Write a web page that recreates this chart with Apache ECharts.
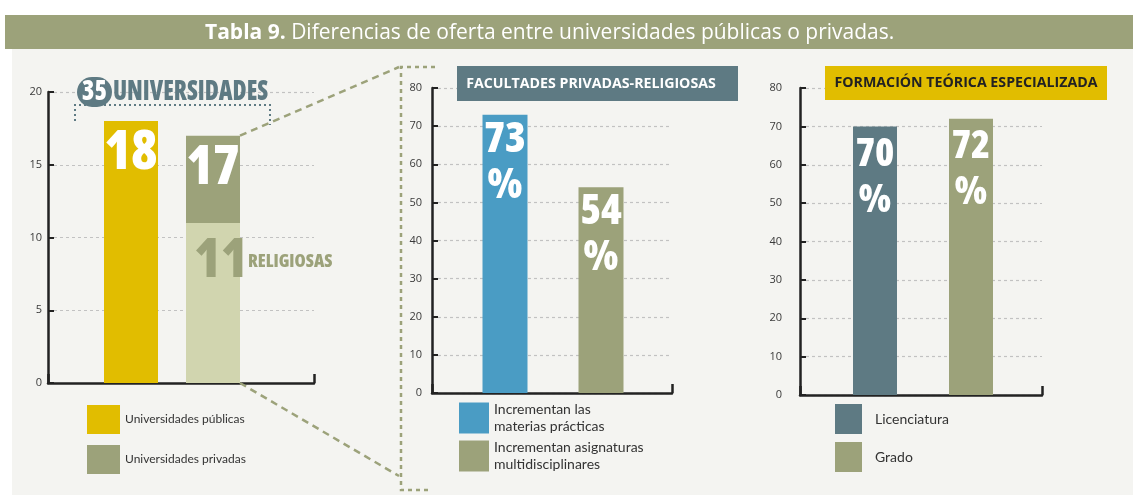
<!DOCTYPE html>
<html><head><meta charset="utf-8">
<script src="https://cdn.jsdelivr.net/npm/echarts@6/dist/echarts.min.js"></script>
<style>html,body{margin:0;padding:0;background:#fff}#c{width:1133px;height:498px}</style>
</head><body><div id="c"></div>
<script>
// ---------- DATA ----------
const titleLead = 'Tabla 9.';
const titleRest = 'Diferencias de oferta entre universidades públicas o privadas.';

// Chart 1: universities
const uniCategories = ['Universidades públicas', 'Universidades privadas'];
const publicasCount = 18;
const privadasCount = 17;
const religiosasCount = 11;
const religiosasLabel = 'RELIGIOSAS';
const uniWord = 'UNIVERSIDADES';
const uniAxis = { max: 20, interval: 5 };

// Chart 2: private-religious faculties
const facTitle = 'FACULTADES PRIVADAS-RELIGIOSAS';
const facCategories = ['Incrementan las\nmaterias prácticas', 'Incrementan asignaturas\nmultidisciplinares'];
const facValues = [73, 54];
const facAxis = { max: 80, interval: 10 };

// Chart 3: specialised theoretical training
const formTitle = 'FORMACIÓN TEÓRICA ESPECIALIZADA';
const formCategories = ['Licenciatura', 'Grado'];
const formValues = [70, 72];
const formAxis = { max: 80, interval: 10 };

// ---------- STYLE ----------
const COND = '"Open Sans","Roboto",sans-serif';
const SANS = '"Open Sans","Noto Sans",sans-serif';
const LEG = 'Lato,"Open Sans",sans-serif';
const C = { yellow:'#e1bd00', olive:'#9ca27a', light:'#d1d5af', blue:'#4a9cc4', slate:'#5e7a83', axis:'#222', grid:'#c2c2c2', text:'#3a3a3a', bg:'#f4f4f1' };

const frames = [
  { left:48, top:92, width:266, height:291 },
  { left:432, top:88, width:240, height:305 },
  { left:800, top:88, width:242, height:307 }
];
const barGrids = [
  { left:90, top:92, width:164, height:291 },
  { left:457, top:88, width:192, height:305 },
  { left:827, top:88, width:192, height:307 }
];
const axesCfg = [uniAxis, facAxis, formAxis];
const labelMargins = [6, 10, 18];

const grid = frames.concat(barGrids);
const xAxis = [], yAxis = [];
frames.forEach((f, i) => {
  xAxis.push({ gridIndex:i, type:'category', data:[''], boundaryGap:true,
    axisLine:{ lineStyle:{ color:C.axis, width:2.5 } },
    axisTick:{ show:true, inside:true, length:9, lineStyle:{ color:C.axis, width:2.5 } },
    axisLabel:{ show:false }, splitLine:{ show:false } });
  yAxis.push({ gridIndex:i, type:'value', min:0, max:axesCfg[i].max, interval:axesCfg[i].interval,
    axisLine:{ show:true, lineStyle:{ color:C.axis, width:2.5 } },
    axisTick:{ show:true, inside:true, length:6, lineStyle:{ color:C.axis, width:2 } },
    axisLabel:{ color:C.text, fontSize:11, fontFamily:SANS, margin:labelMargins[i] },
    splitLine:{ show:true, lineStyle:{ color:C.grid, type:[3,3], width:1.2 } } });
});
const barCats = [uniCategories, facCategories, formCategories];
barGrids.forEach((g, j) => {
  xAxis.push({ gridIndex:j+3, type:'category', data:barCats[j], show:false });
  yAxis.push({ gridIndex:j+3, type:'value', min:0, max:axesCfg[j].max, show:false });
});

const condFont = { fontFamily:COND, fontStyle:'condensed', fontWeight:800 };
const bigLabel = { show:true, position:'insideTop', distance:6, color:'#fff', ...condFont, fontSize:54, lineHeight:54 };
const pctLabel = (size, dist) => ({ show:true, position:'insideTop', distance:dist, color:'#fff',
  formatter: p => `{v|${p.value}}\n{p|%}`,
  rich:{ v:{ ...condFont, fontSize:size, lineHeight:46, color:'#fff' },
         p:{ ...condFont, fontSize:size, lineHeight:46, color:'#fff' } } });

const series = [
  { name:uniCategories[0], type:'bar', xAxisIndex:3, yAxisIndex:3, stack:'u', barWidth:54,
    data:[publicasCount, '-'], itemStyle:{ color:C.yellow }, label:{ ...bigLabel, formatter:'{c}' } },
  { name:'Religiosas', type:'bar', xAxisIndex:3, yAxisIndex:3, stack:'u', barWidth:54,
    data:['-', religiosasCount], itemStyle:{ color:C.light },
    label:{ show:true, position:'insideTopLeft', distance:8, offset:[0,4],
      formatter: p => `{n|${p.value}}{r|${religiosasLabel}}`,
      rich:{ n:{ width:54, ...condFont, fontSize:54, lineHeight:54, color:C.olive },
             r:{ ...condFont, fontSize:18, lineHeight:54, color:C.olive } } } },
  { name:uniCategories[1], type:'bar', xAxisIndex:3, yAxisIndex:3, stack:'u', barWidth:54,
    data:['-', privadasCount - religiosasCount], itemStyle:{ color:C.olive },
    label:{ ...bigLabel, distance:6, formatter:() => String(privadasCount) } },

  { name:facCategories[0], type:'bar', xAxisIndex:4, yAxisIndex:4, stack:'f', barWidth:45,
    data:[facValues[0], '-'], itemStyle:{ color:C.blue }, label:pctLabel(42, 2) },
  { name:facCategories[1], type:'bar', xAxisIndex:4, yAxisIndex:4, stack:'f', barWidth:45,
    data:['-', facValues[1]], itemStyle:{ color:C.olive }, label:pctLabel(42, 2) },

  { name:formCategories[0], type:'bar', xAxisIndex:5, yAxisIndex:5, stack:'r', barWidth:44,
    data:[formValues[0], '-'], itemStyle:{ color:C.slate }, label:pctLabel(39, 6) },
  { name:formCategories[1], type:'bar', xAxisIndex:5, yAxisIndex:5, stack:'r', barWidth:44,
    data:['-', formValues[1]], itemStyle:{ color:C.olive }, label:pctLabel(39, 5) }
];

const legText = { fontFamily:LEG, color:'#333' };
const legend = [
  { data:uniCategories, left:87, top:405, padding:0, orient:'vertical', icon:'rect', itemWidth:33, itemHeight:29, itemGap:11,
    selectedMode:false, textStyle:{ ...legText, fontSize:12 } },
  { data:facCategories, left:459, top:401, padding:0, orient:'vertical', icon:'rect', itemWidth:30, itemHeight:31, itemGap:4,
    selectedMode:false, textStyle:{ ...legText, fontSize:14, lineHeight:17 } },
  { data:formCategories, left:835, top:404, padding:0, orient:'vertical', icon:'rect', itemWidth:27, itemHeight:30, itemGap:8,
    selectedMode:false, textStyle:{ ...legText, fontSize:14, padding:[0,0,0,8] } }
];

const staticGraphics = [
  { type:'rect', z:-20, shape:{ x:12, y:49, width:1121, height:446 }, style:{ fill:C.bg } },
  { type:'rect', z:-10, shape:{ x:5, y:15, width:1128, height:34 }, style:{ fill:C.olive } },
  { type:'text', z:60, x:205, y:33, style:{ text:`{b|${titleLead}} ${titleRest}`, fill:'#fff',
      fontFamily:SANS, fontSize:21, verticalAlign:'middle', align:'left',
      rich:{ b:{ fontFamily:SANS, fontWeight:'bold', fontSize:21, fill:'#fff' } } } },
  // box titles
  { type:'rect', z:50, shape:{ x:457, y:66, width:281, height:35 }, style:{ fill:C.slate } },
  { type:'text', z:51, x:591, y:84, style:{ text:facTitle, fill:'#fff', fontFamily:SANS, fontWeight:'bold', fontSize:14.2, align:'center', verticalAlign:'middle' } },
  { type:'rect', z:50, shape:{ x:825, y:66, width:282, height:34 }, style:{ fill:C.yellow } },
  { type:'text', z:51, x:966, y:83, style:{ text:formTitle, fill:'#222', fontFamily:SANS, fontWeight:'bold', fontSize:14.2, align:'center', verticalAlign:'middle' } },
  // 35 universidades badge
  { type:'polyline', z:40, shape:{ points:[[75,121],[75,105],[270,105],[270,125]] }, style:{ stroke:C.slate, lineWidth:2, lineDash:[2,3], fill:null } },
  { type:'rect', z:50, shape:{ x:77, y:77, width:35, height:30, r:15 }, style:{ fill:C.slate } },
  { type:'text', z:51, x:94.5, y:92, scaleY:1.12, style:{ text:String(publicasCount + privadasCount), fill:'#fff', ...condFont, fontSize:25, align:'center', verticalAlign:'middle' } },
  { type:'text', z:51, x:113, y:92, scaleX:0.96, scaleY:1.15, style:{ text:uniWord, fill:C.slate, ...condFont, fontSize:25, align:'left', verticalAlign:'middle' } },
  // zoom frame
  { type:'polyline', z:40, shape:{ points:[[435,67],[401,67],[401,490],[432,490]] }, style:{ stroke:C.olive, lineWidth:2.5, lineDash:[4,4], fill:null } }
];

const chart = echarts.init(document.getElementById('c'), null, { renderer:'canvas' });
chart.setOption({ backgroundColor:'#fff', animation:false, grid, xAxis, yAxis, series, legend, graphic:{ elements:staticGraphics } });

// connectors anchored to the private-universities bar
const half = 27;
const topR = chart.convertToPixel({ gridIndex:3 }, [uniCategories[1], privadasCount]);
const botR = chart.convertToPixel({ gridIndex:3 }, [uniCategories[1], 0]);
chart.setOption({ graphic:{ elements: staticGraphics.concat([
  { type:'line', z:40, shape:{ x1:topR[0]+half, y1:topR[1], x2:399, y2:67 }, style:{ stroke:C.olive, lineWidth:2.5, lineDash:[7,5] } },
  { type:'line', z:40, shape:{ x1:botR[0]+half, y1:botR[1], x2:399, y2:476 }, style:{ stroke:C.olive, lineWidth:2.5, lineDash:[7,5] } }
]) } });
</script></body></html>
